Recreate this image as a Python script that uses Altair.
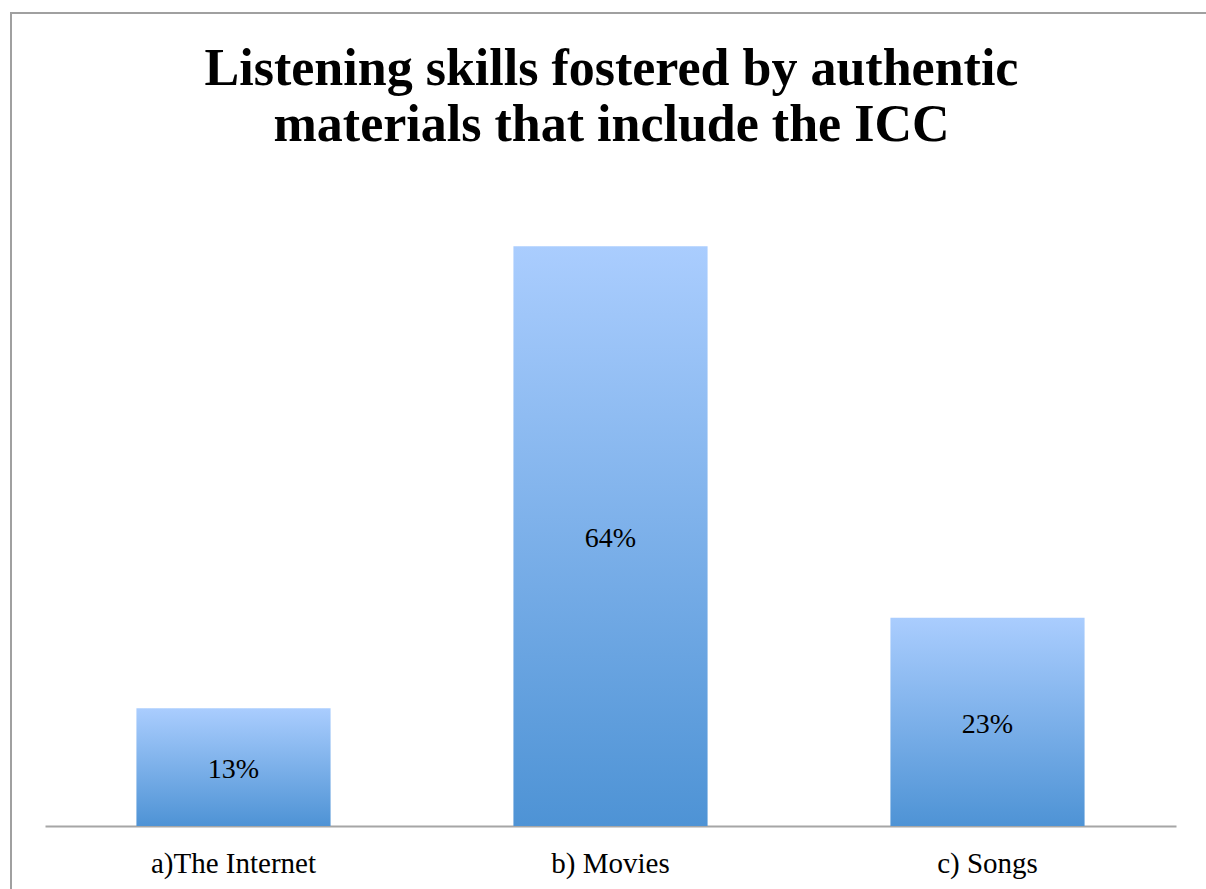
import altair as alt
import pandas as pd

categories = ["a)The Internet", "b) Movies", "c) Songs"]
values = [13, 64, 23]
labels = ["13%", "64%", "23%"]
title_lines = ["Listening skills fostered by authentic", "materials that include the ICC"]

df = pd.DataFrame({"category": categories, "value": values, "label": labels})

W, H = 1131, 634
FONT = "Liberation Serif"

x = alt.X(
    "category:N", sort=categories, title=None,
    scale=alt.Scale(paddingInner=0.485, paddingOuter=0.2425),
    axis=alt.Axis(labelAngle=0, ticks=False, domainColor="#A6A6A6", domainWidth=2,
                  labelFont=FONT, labelFontSize=29, labelColor="#000000",
                  labelPadding=23, grid=False),
)
y = alt.Y("value:Q", scale=alt.Scale(domain=[0, 70]), axis=None)

grad = alt.Gradient(
    gradient="linear",
    stops=[alt.GradientStop(color="#AACDFE", offset=0),
           alt.GradientStop(color="#4E93D5", offset=1)],
    x1=0, x2=0, y1=0, y2=1,
)

base = alt.Chart(df)
one = alt.Chart(pd.DataFrame({"k": [0]}))

frame = one.mark_rect(
    fillOpacity=0, stroke="#A0A0A0", strokeWidth=2
).encode(x=alt.value(-34), x2=alt.value(W + 80), y=alt.value(-179), y2=alt.value(H + 120))

title = one.mark_text(
    text=title_lines, font=FONT, fontSize=52, fontWeight="bold", color="#000000",
    align="center", baseline="alphabetic", lineHeight=56,
).encode(x=alt.value(W / 2 + 1), y=alt.value(-107))

bars = base.mark_bar(color=grad).encode(x=x, y=y)

text = base.transform_calculate(mid="datum.value / 2").mark_text(
    font=FONT, fontSize=28, color="#000000", baseline="middle", dy=3
).encode(x=alt.X("category:N", sort=categories), y=alt.Y("mid:Q"), text="label:N")

chart = alt.layer(frame, title, bars, text).properties(
    width=W, height=H,
    autosize=alt.AutoSizeParams(type="none"),
    padding={"left": 45, "top": 192, "right": 30, "bottom": 63},
).configure_view(stroke=None)

chart.save("out.html", embed_options={"renderer": "svg", "actions": False})
